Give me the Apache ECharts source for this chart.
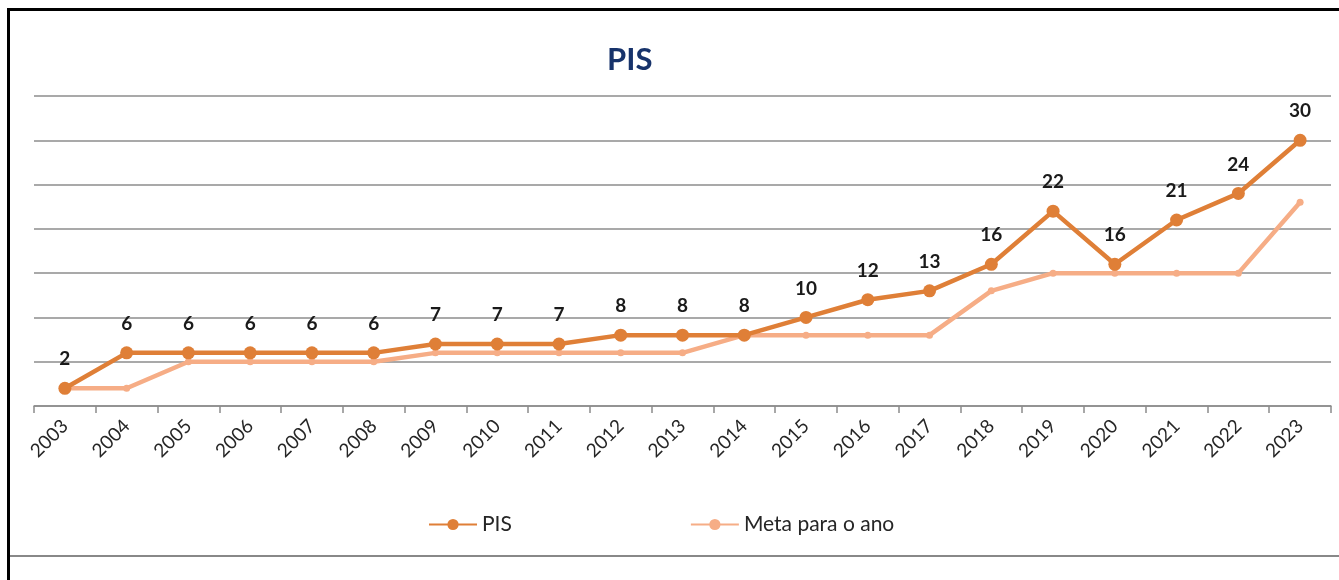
<!DOCTYPE html>
<html>
<head>
<meta charset="utf-8">
<script src="https://cdn.jsdelivr.net/npm/echarts@6/dist/echarts.min.js"></script>
<style>
  html, body { margin: 0; padding: 0; background: #fff; }
  #chart1 { width: 1339px; height: 580px; }
  #frame { position: absolute; left: 7px; top: 8px; width: 1340px; height: 544px;
           border-left: 3px solid #000; border-top: 3px solid #000; border-bottom: 2px solid #888;
           pointer-events: none; }
  #frameLeft { position: absolute; left: 7px; top: 550px; width: 3px; height: 30px; background: #000; }
</style>
</head>
<body>
<div id="chart1"></div>
<div id="frame"></div>
<div id="frameLeft"></div>
<script>
var years = ['2003','2004','2005','2006','2007','2008','2009','2010','2011','2012','2013',
             '2014','2015','2016','2017','2018','2019','2020','2021','2022','2023'];
var pis  = [2, 6, 6, 6, 6, 6, 7, 7, 7, 8, 8, 8, 10, 12, 13, 16, 22, 16, 21, 24, 30];
var meta = [2, 2, 5, 5, 5, 5, 6, 6, 6, 6, 6, 8, 8, 8, 8, 13, 15, 15, 15, 15, 23];

var chart = echarts.init(document.getElementById('chart1'));
var option = {
    animation: false,
    backgroundColor: '#fff',
    title: {
        text: 'PIS',
        left: 602,
        top: 39,
        textStyle: { color: '#17336b', fontSize: 31, fontWeight: 'bold', fontFamily: 'Lato' }
    },
    legend: {
        bottom: 40,
        left: 423,
        itemGap: 178,
        itemWidth: 48,
        itemHeight: 14,
        textStyle: { fontSize: 21, color: '#262626', fontFamily: 'Lato' },
        data: ['PIS', 'Meta para o ano']
    },
    grid: { left: 34, right: 8, top: 96, bottom: 174 },
    xAxis: {
        type: 'category',
        boundaryGap: true,
        data: years,
        axisLine: { lineStyle: { color: '#8c8c8c', width: 1.5 } },
        axisTick: { show: true, length: 7, lineStyle: { color: '#8c8c8c', width: 1.5 } },
        axisLabel: { rotate: 45, fontSize: 19, color: '#262626', fontFamily: 'Lato', margin: 17 },
        splitLine: { show: false }
    },
    yAxis: {
        type: 'value',
        min: 0,
        max: 35,
        interval: 5,
        axisLine: { show: false },
        axisTick: { show: false },
        axisLabel: { show: false },
        splitLine: { lineStyle: { color: '#8c8c8c', width: 1.5 } }
    },
    series: [
        {
            name: 'Meta para o ano',
            type: 'line',
            data: meta,
            symbol: 'circle',
            symbolSize: 7,
            itemStyle: { color: '#f6ad86' },
            lineStyle: { color: '#f6ad86', width: 4.5 },
            z: 2
        },
        {
            name: 'PIS',
            type: 'line',
            data: pis,
            symbol: 'circle',
            symbolSize: 13,
            itemStyle: { color: '#df7f37' },
            lineStyle: { color: '#df7f37', width: 4.5 },
            label: {
                show: true,
                position: 'top',
                distance: 13,
                color: '#1a1a1a',
                fontSize: 19,
                fontWeight: 'bold',
                fontFamily: 'Lato'
            },
            z: 3
        }
    ]
};
chart.setOption(option, true);
</script>
</body>
</html>
